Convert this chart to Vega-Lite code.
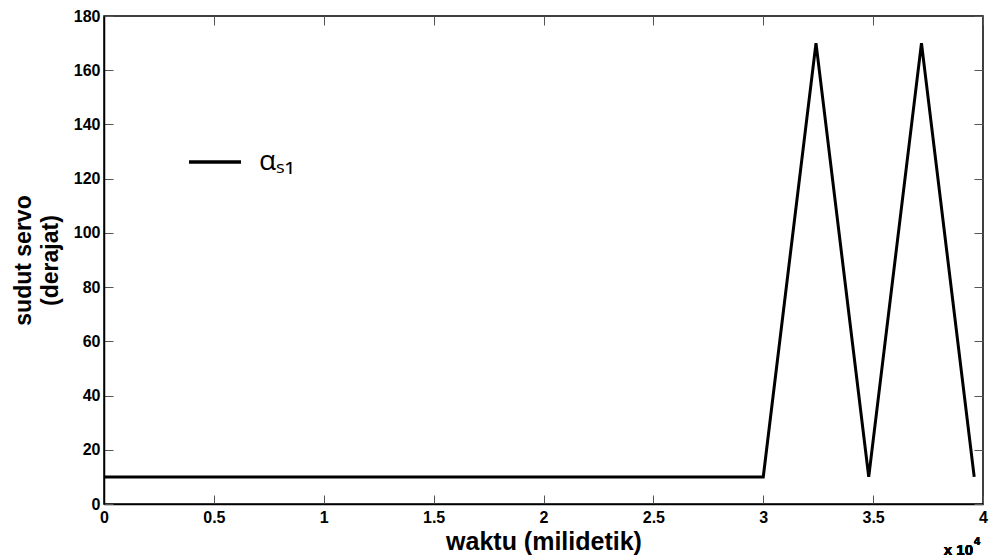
{
  "$schema": "https://vega.github.io/schema/vega-lite/v6.json",
  "width": 879,
  "height": 488,
  "autosize": {"type": "none"},
  "padding": {"left": 104, "top": 16, "right": 10, "bottom": 55},
  "background": "white",
  "config": {
    "view": {"stroke": "black", "strokeWidth": 1.5},
    "axis": {"grid": false, "domainColor": "black", "tickColor": "#555", "labelColor": "black", "titleColor": "black", "labelFont": "Liberation Sans", "titleFont": "Liberation Sans", "labelFontWeight": "bold", "titleFontWeight": "bold"}
  },
  "data": {"values": [
    {"t": 0, "a": 10, "s": "a"},
    {"t": 30000, "a": 10, "s": "a"},
    {"t": 32400, "a": 170, "s": "a"},
    {"t": 34800, "a": 10, "s": "a"},
    {"t": 37200, "a": 170, "s": "a"},
    {"t": 39600, "a": 10, "s": "a"}
  ]},
  "layer": [
    {
      "mark": {"type": "line", "strokeWidth": 3, "clip": true},
      "encoding": {
        "x": {"field": "t", "type": "quantitative", "scale": {"domain": [0, 40000], "nice": false},
          "axis": {"orient": "bottom", "values": [0, 5000, 10000, 15000, 20000, 25000, 30000, 35000, 40000], "labelExpr": "datum.value / 10000", "tickSize": -9, "labelPadding": 14, "labelFontSize": 16, "title": "waktu (milidetik)", "titleFontSize": 25, "titlePadding": 4, "domainWidth": 1.5, "labelFlush": false}},
        "y": {"field": "a", "type": "quantitative", "scale": {"domain": [0, 180], "nice": false},
          "axis": {"orient": "left", "values": [0, 20, 40, 60, 80, 100, 120, 140, 160, 180], "tickSize": -9, "labelPadding": 13, "labelFontSize": 16, "title": ["sudut servo", "(derajat)"], "titleFontSize": 23, "titleLineHeight": 27, "titlePadding": 11, "domainWidth": 1.5}},
        "color": {"field": "s", "type": "nominal", "scale": {"range": ["black"]},
          "legend": {"orient": "none", "legendX": 83, "legendY": 118, "title": null, "symbolType": "stroke", "symbolSize": 2700, "symbolStrokeWidth": 3.5, "labelExpr": "'αₛ₁'", "labelFont": "Open Sans", "labelFontSize": 28, "labelOffset": 16, "padding": 0}}
      }
    },
    {
      "mark": {"type": "text", "font": "Liberation Sans", "fontWeight": "bold", "fontSize": 15, "align": "right", "baseline": "alphabetic", "dy": 51, "dx": -10},
      "encoding": {
        "x": {"datum": 40000, "type": "quantitative", "axis": {"orient": "top", "values": [0, 5000, 10000, 15000, 20000, 25000, 30000, 35000, 40000], "labels": false, "tickSize": -9, "title": null, "domain": false}},
        "y": {"datum": 0, "type": "quantitative", "axis": {"orient": "right", "values": [0, 20, 40, 60, 80, 100, 120, 140, 160, 180], "labels": false, "tickSize": -9, "title": null, "domain": false}},
        "text": {"value": "x 10"}
      }
    },
    {
      "mark": {"type": "text", "font": "Liberation Sans", "fontWeight": "bold", "fontSize": 11, "align": "left", "baseline": "alphabetic", "dy": 41, "dx": -9},
      "encoding": {
        "x": {"datum": 40000, "type": "quantitative", "axis": null},
        "y": {"datum": 0, "type": "quantitative", "axis": null},
        "text": {"value": "4"}
      }
    }
  ],
  "resolve": {"axis": {"x": "independent", "y": "independent"}}
}
